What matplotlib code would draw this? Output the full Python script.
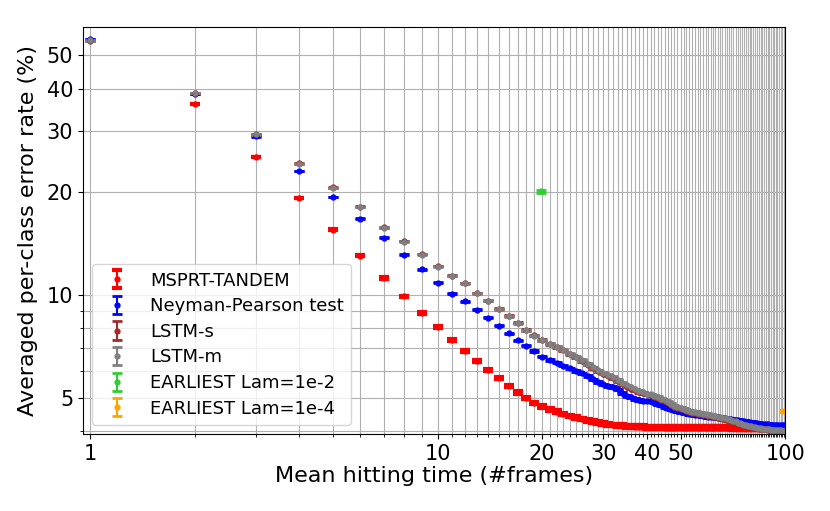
import numpy as np
import matplotlib
matplotlib.use("Agg")
import matplotlib.pyplot as plt
from matplotlib import ticker

# mean hitting time (frames)
frames = list(range(1, 101))

# averaged per-class error rate (%)
tandem_err = [
    36.1, 25.3, 19.2, 15.5, 13.0, 11.2, 9.9, 8.86, 8.06,
    7.39, 6.86, 6.40, 6.02, 5.71, 5.43, 5.19, 5.01, 4.84, 4.73,
    4.63, 4.56, 4.49, 4.43, 4.39, 4.34, 4.30, 4.26, 4.23, 4.21,
    4.19, 4.17, 4.16, 4.15, 4.14, 4.13, 4.12, 4.12, 4.12, 4.11,
    4.11, 4.11, 4.11, 4.11, 4.10, 4.10, 4.10, 4.10, 4.10, 4.10,
    4.10, 4.10, 4.10, 4.10, 4.10, 4.09, 4.09, 4.09, 4.09, 4.09,
    4.09, 4.09, 4.09, 4.09, 4.09, 4.09, 4.09, 4.09, 4.09, 4.09,
    4.08, 4.08, 4.08, 4.08, 4.08, 4.08, 4.08, 4.08, 4.08, 4.08,
    4.08, 4.08, 4.08, 4.08, 4.08, 4.07, 4.07, 4.07, 4.07, 4.07,
    4.07, 4.07, 4.07, 4.07, 4.07, 4.07, 4.07, 4.07, 4.07, 4.07,
]
tandem_frames = frames[1:]

np_err = [
    55.8, 38.6, 29.0, 23.0, 19.3, 16.7, 14.7, 13.1, 11.87, 10.84,
    10.09, 9.58, 9.04, 8.58, 8.13, 7.73, 7.37, 7.11, 6.86, 6.60,
    6.45, 6.34, 6.22, 6.10, 6.00, 5.90, 5.79, 5.67, 5.57, 5.48,
    5.42, 5.39, 5.30, 5.18, 5.08, 5.02, 4.97, 4.93, 4.91, 4.90,
    4.89, 4.85, 4.80, 4.76, 4.72, 4.68, 4.64, 4.60, 4.58, 4.56,
    4.54, 4.52, 4.50, 4.48, 4.47, 4.46, 4.45, 4.43, 4.42, 4.41,
    4.40, 4.40, 4.39, 4.39, 4.38, 4.37, 4.36, 4.35, 4.34, 4.33,
    4.32, 4.31, 4.30, 4.29, 4.28, 4.27, 4.26, 4.26, 4.25, 4.24,
    4.23, 4.23, 4.22, 4.21, 4.21, 4.20, 4.20, 4.19, 4.19, 4.18,
    4.18, 4.18, 4.17, 4.17, 4.17, 4.17, 4.16, 4.16, 4.16, 4.16,
]

lstm_s_err = [
    55.1, 38.9, 29.5, 24.2, 20.6, 18.1, 15.75, 14.35, 13.15, 12.15,
    11.38, 10.83, 10.13, 9.62, 9.10, 8.68, 8.29, 7.90, 7.62, 7.38,
    7.19, 7.04, 6.89, 6.71, 6.57, 6.42, 6.26, 6.11, 5.99, 5.89,
    5.81, 5.71, 5.60, 5.49, 5.40, 5.33, 5.26, 5.21, 5.16, 5.12,
    5.09, 5.05, 5.00, 4.94, 4.89, 4.83, 4.77, 4.72, 4.68, 4.64,
    4.61, 4.58, 4.55, 4.53, 4.51, 4.49, 4.48, 4.47, 4.45, 4.43,
    4.42, 4.40, 4.39, 4.37, 4.36, 4.34, 4.33, 4.32, 4.30, 4.28,
    4.26, 4.24, 4.22, 4.20, 4.18, 4.16, 4.15, 4.13, 4.12, 4.11,
    4.10, 4.09, 4.08, 4.07, 4.06, 4.06, 4.05, 4.05, 4.04, 4.04,
    4.03, 4.03, 4.03, 4.02, 4.02, 4.02, 4.01, 4.01, 4.01, 4.00,
]

lstm_m_err = [
    55.3, 38.8, 29.4, 24.1, 20.5, 18.05, 15.7, 14.3, 13.1, 12.1,
    11.35, 10.8, 10.1, 9.6, 9.08, 8.66, 8.27, 7.88, 7.6, 7.37,
    7.2, 7.06, 6.92, 6.74, 6.60, 6.45, 6.29, 6.14, 6.02, 5.92,
    5.85, 5.75, 5.64, 5.53, 5.44, 5.37, 5.30, 5.24, 5.19, 5.15,
    5.12, 5.08, 5.03, 4.97, 4.92, 4.86, 4.80, 4.75, 4.71, 4.67,
    4.64, 4.61, 4.58, 4.56, 4.54, 4.52, 4.51, 4.50, 4.48, 4.46,
    4.45, 4.43, 4.42, 4.40, 4.39, 4.37, 4.36, 4.35, 4.33, 4.31,
    4.29, 4.27, 4.24, 4.22, 4.20, 4.18, 4.17, 4.15, 4.14, 4.13,
    4.12, 4.11, 4.10, 4.09, 4.08, 4.07, 4.06, 4.06, 4.05, 4.05,
    4.04, 4.04, 4.03, 4.03, 4.02, 4.02, 4.02, 4.01, 4.01, 4.01,
]

earliest_2_x = [19.8]
earliest_2_y = [20.05]
earliest_4_x = [99.0]
earliest_4_y = [4.58]

# standard errors (%)
tandem_se = 0.04
np_se = 0.03
lstm_s_se = 0.03
lstm_m_se = 0.03
earliest_2_se = 0.15
earliest_4_se = 0.04

xtick_vals = [1, 10, 20, 30, 40, 50, 100]
ytick_vals = [5, 10, 20, 30, 40, 50]

fig, ax = plt.subplots(figsize=(8.3, 5.11), dpi=100)
fig.subplots_adjust(left=0.100, right=0.946, top=0.947, bottom=0.151)

eb_kw = dict(fmt="o", markersize=3.5, capsize=3.3, elinewidth=1.5)
ax.errorbar(tandem_frames, tandem_err, yerr=tandem_se, color="red", capthick=3,
            label="MSPRT-TANDEM", **eb_kw)
ax.errorbar(frames, np_err, yerr=np_se, color="blue", capthick=2,
            label="Neyman-Pearson test", **eb_kw)
ax.errorbar(frames, lstm_s_err, yerr=lstm_s_se, color="brown", capthick=2,
            label="LSTM-s", **eb_kw)
ax.errorbar(frames, lstm_m_err, yerr=lstm_m_se, color="gray", capthick=2,
            label="LSTM-m", **eb_kw)
ax.errorbar(earliest_2_x, earliest_2_y, yerr=earliest_2_se, color="limegreen", capthick=2,
            label="EARLIEST Lam=1e-2", **eb_kw)
ax.errorbar(earliest_4_x, earliest_4_y, yerr=earliest_4_se, color="orange", capthick=2,
            label="EARLIEST Lam=1e-4", **eb_kw)

ax.set_xscale("log")
ax.set_yscale("log")
ax.set_xlim(0.955, 100)
ax.set_ylim(3.93, 60.5)

ax.xaxis.set_major_locator(ticker.FixedLocator(xtick_vals))
ax.xaxis.set_major_formatter(ticker.FixedFormatter([str(v) for v in xtick_vals]))
ax.xaxis.set_minor_locator(ticker.FixedLocator([f for f in frames if f not in xtick_vals]))
ax.xaxis.set_minor_formatter(ticker.NullFormatter())

ax.yaxis.set_major_locator(ticker.FixedLocator(ytick_vals))
ax.yaxis.set_major_formatter(ticker.FixedFormatter([str(v) for v in ytick_vals]))
ax.yaxis.set_minor_locator(ticker.FixedLocator([4, 6, 7, 8, 9]))
ax.yaxis.set_minor_formatter(ticker.NullFormatter())

ax.tick_params(axis="both", which="major", labelsize=15)
ax.grid(which="both", color="#b0b0b0", linewidth=0.8)

ax.set_xlabel("Mean hitting time (#frames)", fontsize=16, labelpad=2)
ax.set_ylabel("Averaged per-class error rate (%)", fontsize=16, labelpad=6)

ax.legend(loc="lower left", fontsize=13, labelspacing=0.42)

plt.savefig("out.png", dpi=100)
